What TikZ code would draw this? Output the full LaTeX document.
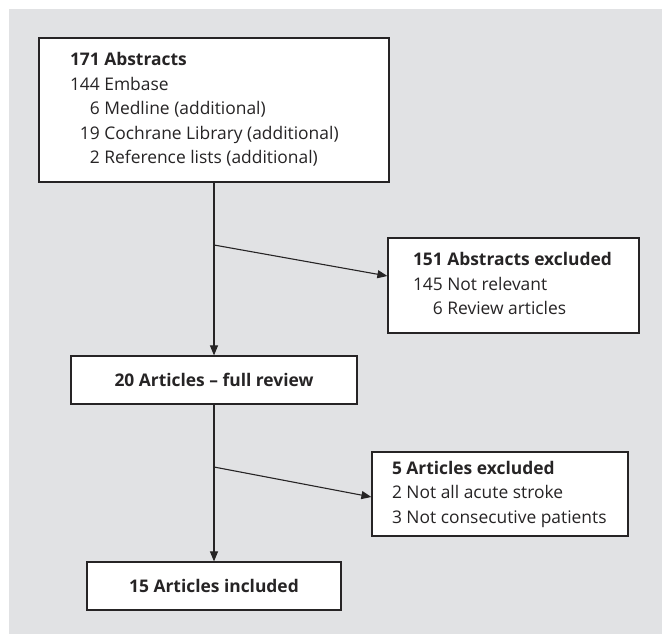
\documentclass[tikz,border=0pt]{standalone}
\usepackage{fontspec}
\setmainfont{Open Sans}
\usetikzlibrary{arrows.meta}
\definecolor{panel}{RGB}{225,226,228}
\definecolor{ink}{RGB}{38,36,37}
\newcommand{\boxtext}[2]{\makebox[#1][l]{\begin{tabular}{@{}l@{}}#2\end{tabular}}}
\begin{document}
\begin{tikzpicture}[x=1pt,y=-1pt,
  box/.style={draw=ink, line width=1.2pt, fill=white, text=ink, inner sep=0pt,
    font=\fontsize{17.4}{24.5}\selectfont},
  flow/.style={draw=ink, line width=1.1pt, -{Triangle[length=10pt,width=8pt]}}]
\useasboundingbox (0,0) rectangle (662,634);
\fill[panel] (9,9) rectangle (662,634);

\node[box, minimum width=350pt, minimum height=144pt] (abs) at (214,110)
  {\boxtext{288pt}{\textbf{171 Abstracts}\\
   144 Embase\\
   \phantom{14}6 Medline (additional)\\
   \phantom{1}19 Cochrane Library (additional)\\
   \phantom{14}2 Reference lists (additional)}};

\node[box, minimum width=251pt, minimum height=95pt] (exa) at (513.5,285.5)
  {\boxtext{201pt}{\textbf{151 Abstracts excluded}\\
   145 Not relevant\\
   \phantom{14}6 Review articles}};

\node[box, minimum width=286pt, minimum height=48pt] (full) at (214,380)
  {\textbf{20 Articles -- full review}};

\node[box, minimum width=256pt, minimum height=84pt] (exb) at (500,494)
  {\boxtext{216pt}{\textbf{5 Articles excluded}\\
   2 Not all acute stroke\\
   3 Not consecutive patients}};

\node[box, minimum width=254pt, minimum height=48pt] (inc) at (214,586)
  {\textbf{15 Articles included}};

\coordinate (s1) at (214,245);
\coordinate (s2) at (214,467);

\draw[flow] (abs.south) -- (full.north);
\draw[flow] (s1) -- ([yshift=9.5pt]exa.west);
\draw[flow] (full.south) -- (inc.north);
\draw[flow] (s2) -- ([yshift=-3pt]exb.west);
\end{tikzpicture}
\end{document}
